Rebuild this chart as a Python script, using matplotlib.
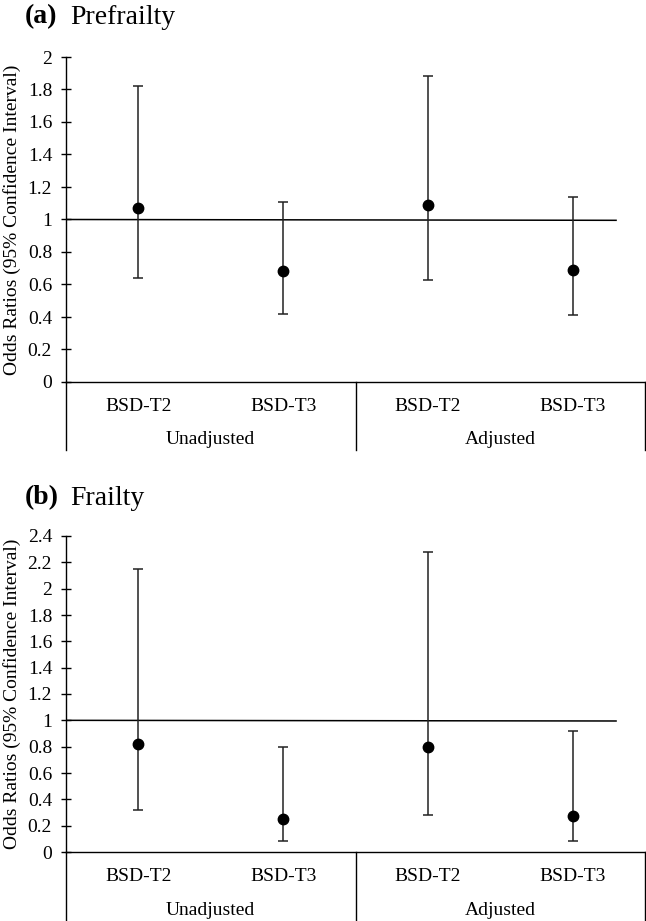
import numpy as np
import matplotlib
matplotlib.use('Agg')
import matplotlib.pyplot as plt

plt.rcParams['font.family'] = ['Liberation Serif', 'DejaVu Serif']

groups = ['Unadjusted', 'Adjusted']
labels = ['BSD-T2', 'BSD-T3', 'BSD-T2', 'BSD-T3']

# (a) prefrailty: odds ratio, lower / upper 95% CI
pre_or = np.array([1.07, 0.68, 1.09, 0.69])
pre_lo = np.array([0.64, 0.42, 0.63, 0.41])
pre_hi = np.array([1.82, 1.11, 1.88, 1.14])

# (b) frailty
fr_or = np.array([0.82, 0.25, 0.80, 0.27])
fr_lo = np.array([0.32, 0.08, 0.28, 0.08])
fr_hi = np.array([2.15, 0.80, 2.28, 0.92])

# reference line (slightly tilted, as in the original)
ref_x = [-0.5, 3.3]
ref_y = [1.0, 0.995]

W, H = 646, 921
fig = plt.figure(figsize=(W / 100, H / 100), dpi=100)
FS = 14


def panel(top, bottom, orv, lo, hi, ymax, tag, title, title_y):
    ax = fig.add_axes([66 / W, 1 - bottom / H, 579 / W, (bottom - top) / H])
    h_px = bottom - top
    x = np.arange(len(orv))
    ax.errorbar(x, orv, yerr=[orv - lo, hi - orv], fmt='o', color='black',
                ecolor='#222222', elinewidth=1.1, capsize=3.5, capthick=1.1,
                markersize=7.5, zorder=3)
    ax.plot(ref_x, ref_y, color='black', lw=1.1, zorder=2)
    ax.set_xlim(-0.5, 3.5)
    ax.set_ylim(0, ymax)
    yt = np.round(np.arange(0, ymax + 0.01, 0.2), 1)
    ax.set_yticks(yt, ['%g' % v for v in yt])
    ax.tick_params(axis='y', direction='inout', length=7, width=1,
                   pad=6.5, labelsize=FS)
    ax.set_xticks(x, labels)
    ax.tick_params(axis='x', length=0, pad=11.5, labelsize=FS)
    for s in ['top', 'right']:
        ax.spines[s].set_visible(False)
    for s in ['left', 'bottom']:
        ax.spines[s].set_linewidth(1)
    ax.set_ylabel('Odds Ratios (95% Confidence Interval)', fontsize=FS)
    ax.yaxis.set_label_coords((21 - 66) / 579, 0.5)

    tr = ax.get_xaxis_transform()
    for xs in [-0.5, 1.5, 3.5]:
        ax.plot([xs, xs], [0, -68 / h_px], transform=tr, color='black',
                lw=1, clip_on=False)
    for i, g in enumerate(groups):
        ax.text(0.5 + 2 * i, -58 / h_px, g, transform=tr, ha='center',
                va='center', fontsize=FS)

    fig.text(25 / W, 1 - title_y / H, tag, fontsize=20, weight='bold',
             va='center')
    fig.text(70 / W, 1 - title_y / H, title, fontsize=20, va='center')
    return ax


panel(57, 382, pre_or, pre_lo, pre_hi, 2.0, '(a)', 'Prefrailty', 17)
panel(536, 852, fr_or, fr_lo, fr_hi, 2.4, '(b)', 'Frailty', 498)

fig.savefig('out.png', dpi=100)
